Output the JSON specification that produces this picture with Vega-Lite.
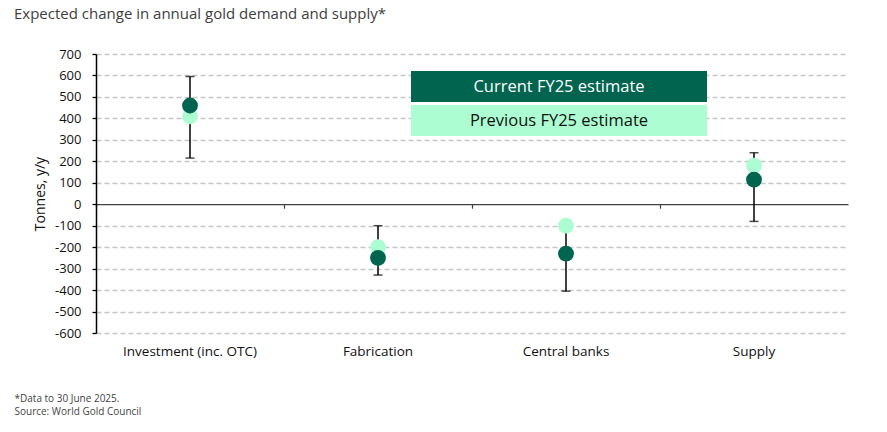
{
  "$schema": "https://vega.github.io/schema/vega-lite/v6.json",
  "width": 752,
  "height": 279,
  "autosize": {"type": "none"},
  "padding": {"left": 96, "top": 54, "right": 39, "bottom": 99},
  "background": "white",
  "title": {
    "text": "Expected change in annual gold demand and supply*",
    "anchor": "start",
    "frame": "group",
    "dx": -82,
    "offset": 26,
    "font": "Open Sans",
    "fontSize": 15,
    "fontWeight": "normal",
    "color": "#404040"
  },
  "datasets": {
    "estimates": [
      {"category": "Investment (inc. OTC)", "series": "Previous FY25 estimate", "value": 410},
      {"category": "Fabrication", "series": "Previous FY25 estimate", "value": -200},
      {"category": "Central banks", "series": "Previous FY25 estimate", "value": -100},
      {"category": "Supply", "series": "Previous FY25 estimate", "value": 180},
      {"category": "Investment (inc. OTC)", "series": "Current FY25 estimate", "value": 460},
      {"category": "Fabrication", "series": "Current FY25 estimate", "value": -250},
      {"category": "Central banks", "series": "Current FY25 estimate", "value": -230},
      {"category": "Supply", "series": "Current FY25 estimate", "value": 115}
    ],
    "ranges": [
      {"category": "Investment (inc. OTC)", "low": 215, "high": 595},
      {"category": "Fabrication", "low": -330, "high": -100},
      {"category": "Central banks", "low": -405, "high": -100},
      {"category": "Supply", "low": -80, "high": 240}
    ]
  },
  "config": {
    "view": {"stroke": null},
    "font": "Open Sans"
  },
  "resolve": {"axis": {"x": "independent"}},
  "layer": [
    {
      "data": {"name": "ranges"},
      "mark": {"type": "errorbar", "color": "black", "thickness": 1.5, "ticks": {"size": 9, "thickness": 1.5, "color": "black"}},
      "encoding": {
        "x": {
          "field": "category", "type": "nominal",
          "sort": ["Investment (inc. OTC)", "Fabrication", "Central banks", "Supply"],
          "scale": {"type": "band", "paddingInner": 0, "paddingOuter": 0},
          "axis": {
            "orient": "bottom", "offset": -128.8, "labels": false, "title": null,
            "domain": true, "domainColor": "#404040", "domainWidth": 1.3,
            "ticks": true, "tickSize": 4, "tickColor": "#404040", "tickWidth": 1.2,
            "bandPosition": 0, "grid": false
          }
        },
        "y": {
          "field": "low", "type": "quantitative",
          "scale": {"domain": [-600, 700], "nice": false, "zero": false},
          "axis": {
            "title": "Tonnes, y/y",
            "values": [-600, -500, -400, -300, -200, -100, 0, 100, 200, 300, 400, 500, 600, 700],
            "tickCount": 20,
            "labelOverlap": false,
            "labelExpr": "datum.value < 0 ? '-' + abs(datum.value) : '' + datum.value",
            "grid": true, "gridColor": "#C6C6C6", "gridDash": [5, 3], "gridWidth": 1.3,
            "gridOpacity": {"condition": {"test": "datum.value === 0", "value": 0}, "value": 1},
            "domainColor": "#000000", "domainWidth": 1.5,
            "tickColor": "#000000", "tickSize": 4, "tickWidth": 1.3,
            "labelFont": "Open Sans", "labelFontSize": 13, "labelColor": "#111111", "labelPadding": 11,
            "titleFont": "Open Sans", "titleFontSize": 14, "titleFontWeight": "normal", "titleColor": "#111111",
            "titleX": -49, "titleY": 139.5
          }
        },
        "y2": {"field": "high"}
      }
    },
    {
      "data": {"name": "estimates"},
      "mark": {"type": "circle", "opacity": 1, "size": 250},
      "encoding": {
        "x": {
          "field": "category", "type": "nominal",
          "sort": ["Investment (inc. OTC)", "Fabrication", "Central banks", "Supply"],
          "scale": {"type": "band", "paddingInner": 0, "paddingOuter": 0},
          "axis": {
            "orient": "bottom", "domain": false, "ticks": false, "grid": false,
            "labelAngle": 0, "labelPadding": 11,
            "labelFont": "Open Sans", "labelFontSize": 13.5, "labelColor": "#111111",
            "title": ["*Data to 30 June 2025.", "Source: World Gold Council"],
            "titleAlign": "left", "titleAnchor": "start", "titleX": -82, "titleY": 60,
            "titleBaseline": "top", "titleFont": "Open Sans", "titleFontSize": 10,
            "titleFontWeight": "normal", "titleColor": "#444444", "titleLineHeight": 13
          }
        },
        "y": {
          "field": "value", "type": "quantitative",
          "scale": {"domain": [-600, 700], "nice": false, "zero": false},
          "axis": {
            "title": "Tonnes, y/y",
            "values": [-600, -500, -400, -300, -200, -100, 0, 100, 200, 300, 400, 500, 600, 700],
            "tickCount": 20,
            "labelOverlap": false,
            "labelExpr": "datum.value < 0 ? '-' + abs(datum.value) : '' + datum.value",
            "grid": true, "gridColor": "#C6C6C6", "gridDash": [5, 3], "gridWidth": 1.3,
            "gridOpacity": {"condition": {"test": "datum.value === 0", "value": 0}, "value": 1},
            "domainColor": "#000000", "domainWidth": 1.5,
            "tickColor": "#000000", "tickSize": 4, "tickWidth": 1.3,
            "labelFont": "Open Sans", "labelFontSize": 13, "labelColor": "#111111", "labelPadding": 11,
            "titleFont": "Open Sans", "titleFontSize": 14, "titleFontWeight": "normal", "titleColor": "#111111",
            "titleX": -49, "titleY": 139.5
          }
        },
        "color": {
          "field": "series", "type": "nominal",
          "scale": {"domain": ["Current FY25 estimate", "Previous FY25 estimate"], "range": ["#00644F", "#ADFDD2"]},
          "legend": {
            "title": null, "orient": "none", "legendX": 315, "legendY": 17,
            "direction": "vertical", "padding": 0, "offset": 0,
            "symbolType": "M-1,-0.105H1V0.105H-1Z", "symbolSize": 87616,
            "symbolStrokeWidth": 0, "symbolOpacity": 1, "symbolOffset": 0,
            "clipHeight": 31, "rowPadding": 3,
            "labelAlign": "center", "labelBaseline": "middle", "labelOffset": -148,
            "labelFont": "Open Sans", "labelFontSize": 16.5, "labelLimit": 400,
            "encode": {
              "entries": {
                "update": {"clip": {"value": false}, "width": {"value": 296}, "height": {"value": 31}}
              },
              "labels": {
                "update": {
                  "fill": {"signal": "datum.value === 'Current FY25 estimate' ? '#ffffff' : '#111111'"}
                }
              }
            }
          }
        }
      }
    }
  ]
}
